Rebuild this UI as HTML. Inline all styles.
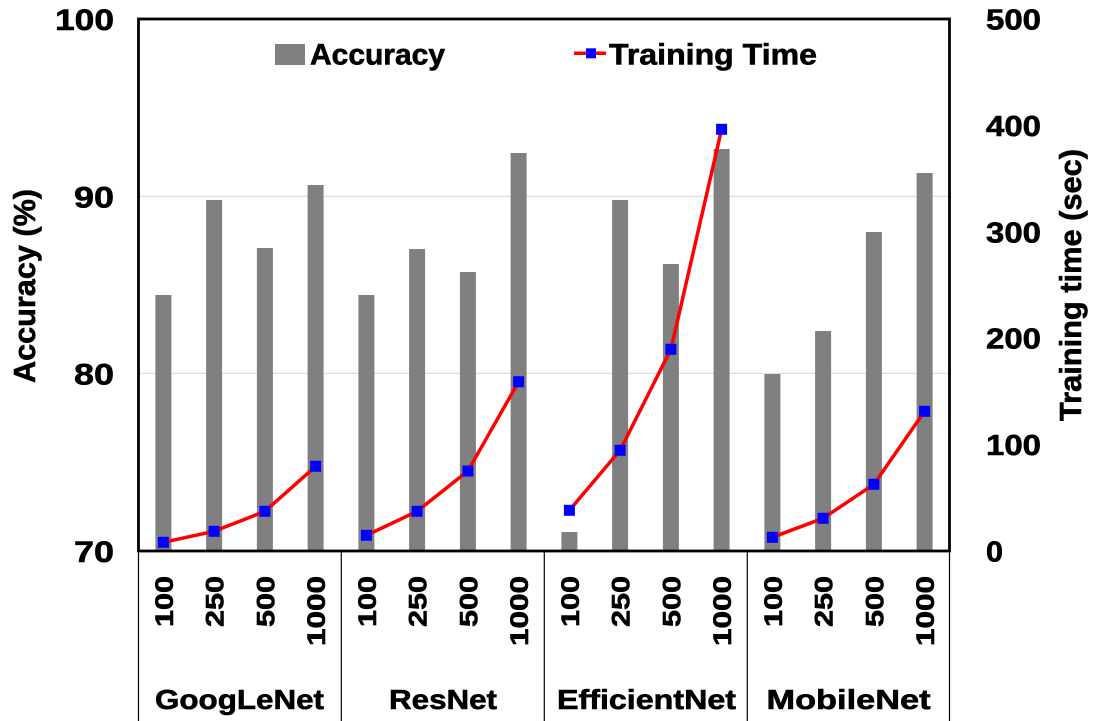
<!DOCTYPE html>
<html>
<head>
<meta charset="utf-8">
<style>
html,body{margin:0;padding:0;background:#fff;}
svg{display:block;}
text{font-family:"Liberation Sans",Arial,sans-serif;font-weight:bold;fill:#000;stroke:#000;stroke-width:0.6;}
</style>
</head>
<body>
<svg width="1095" height="721" viewBox="0 0 1095 721" xmlns="http://www.w3.org/2000/svg">
<rect x="0" y="0" width="1095" height="721" fill="#fff"/>

<!-- gridlines -->
<line x1="138" y1="196.3" x2="950" y2="196.3" stroke="#d9d9d9" stroke-width="1.2"/>
<line x1="138" y1="373.3" x2="950" y2="373.3" stroke="#d9d9d9" stroke-width="1.2"/>

<!-- bars -->
<g fill="#808080">
<rect x="155.4" y="295" width="16" height="256"/>
<rect x="206.1" y="200" width="16" height="351"/>
<rect x="256.9" y="248" width="16" height="303"/>
<rect x="307.6" y="185" width="16" height="366"/>
<rect x="358.4" y="295" width="16" height="256"/>
<rect x="409.1" y="249" width="16" height="302"/>
<rect x="459.9" y="272" width="16" height="279"/>
<rect x="510.6" y="153" width="16" height="398"/>
<rect x="561.4" y="532" width="16" height="19"/>
<rect x="612.1" y="200" width="16" height="351"/>
<rect x="662.9" y="264" width="16" height="287"/>
<rect x="713.6" y="149" width="16" height="402"/>
<rect x="764.4" y="374" width="16" height="177"/>
<rect x="815.1" y="331" width="16" height="220"/>
<rect x="865.9" y="232" width="16" height="319"/>
<rect x="916.6" y="173" width="16" height="378"/>
</g>

<!-- lines -->
<g fill="none" stroke="#ff0000" stroke-width="3.5" stroke-linejoin="round">
<polyline points="163.4,542.3 214.1,531.3 264.9,511.3 315.6,466.3"/>
<polyline points="366.4,535.3 417.1,511.3 467.9,471 518.6,381.7"/>
<polyline points="569.4,510.3 620.1,450.3 670.9,349.3 721.6,129.3"/>
<polyline points="772.4,537.3 823.1,518.3 873.9,484.3 924.6,411.3"/>
</g>
<!-- markers -->
<g fill="#0000ff">
<rect x="157.9" y="536.8" width="11" height="11"/>
<rect x="208.6" y="525.8" width="11" height="11"/>
<rect x="259.4" y="505.8" width="11" height="11"/>
<rect x="310.1" y="460.8" width="11" height="11"/>
<rect x="360.9" y="529.8" width="11" height="11"/>
<rect x="411.6" y="505.8" width="11" height="11"/>
<rect x="462.4" y="465.5" width="11" height="11"/>
<rect x="513.1" y="376.2" width="11" height="11"/>
<rect x="563.9" y="504.8" width="11" height="11"/>
<rect x="614.6" y="444.8" width="11" height="11"/>
<rect x="665.4" y="343.8" width="11" height="11"/>
<rect x="716.1" y="123.8" width="11" height="11"/>
<rect x="766.9" y="531.8" width="11" height="11"/>
<rect x="817.6" y="512.8" width="11" height="11"/>
<rect x="868.4" y="478.8" width="11" height="11"/>
<rect x="919.1" y="405.8" width="11" height="11"/>
</g>

<!-- plot border -->
<rect x="138.5" y="19" width="811" height="532" fill="none" stroke="#000" stroke-width="2.8"/>

<!-- category dividers -->
<g stroke="#000" stroke-width="1.2">
<line x1="138.5" y1="551" x2="138.5" y2="721"/>
<line x1="341.3" y1="551" x2="341.3" y2="721"/>
<line x1="544.3" y1="551" x2="544.3" y2="721"/>
<line x1="747.3" y1="551" x2="747.3" y2="721"/>
<line x1="949.5" y1="551" x2="949.5" y2="721"/>
</g>

<!-- legend -->
<rect x="275" y="44" width="30" height="21" fill="#808080"/>
<text x="310" y="64.5" font-size="30" textLength="135" lengthAdjust="spacingAndGlyphs">Accuracy</text>
<line x1="574" y1="53.3" x2="606" y2="53.3" stroke="#ff0000" stroke-width="3.5"/>
<rect x="586" y="48.3" width="10" height="10" fill="#0000ff"/>
<text x="609" y="64.5" font-size="30" textLength="208" lengthAdjust="spacingAndGlyphs">Training Time</text>

<!-- left ticks -->
<g font-size="30" text-anchor="end">
<text x="114" y="30" textLength="59" lengthAdjust="spacingAndGlyphs">100</text>
<text x="114" y="207.3" textLength="40" lengthAdjust="spacingAndGlyphs">90</text>
<text x="114" y="384.3" textLength="40" lengthAdjust="spacingAndGlyphs">80</text>
<text x="114" y="562" textLength="40" lengthAdjust="spacingAndGlyphs">70</text>
</g>

<!-- right ticks -->
<g font-size="29">
<text x="986" y="29.5" textLength="55" lengthAdjust="spacingAndGlyphs">500</text>
<text x="986" y="136" textLength="55" lengthAdjust="spacingAndGlyphs">400</text>
<text x="986" y="242.3" textLength="55" lengthAdjust="spacingAndGlyphs">300</text>
<text x="986" y="348.7" textLength="55" lengthAdjust="spacingAndGlyphs">200</text>
<text x="986" y="455" textLength="55" lengthAdjust="spacingAndGlyphs">100</text>
<text x="986" y="561.5" textLength="17" lengthAdjust="spacingAndGlyphs">0</text>
</g>

<!-- axis titles -->
<text transform="translate(35,286) rotate(-90)" font-size="31" text-anchor="middle" textLength="194" lengthAdjust="spacingAndGlyphs">Accuracy (%)</text>
<text transform="translate(1081,285) rotate(-90)" font-size="31" text-anchor="middle" textLength="272" lengthAdjust="spacingAndGlyphs">Training time (sec)</text>

<!-- category labels (rotated) -->
<g font-size="25" text-anchor="end">
<text transform="translate(173,576) rotate(-90)" textLength="51" lengthAdjust="spacingAndGlyphs">100</text>
<text transform="translate(223.7,576) rotate(-90)" textLength="51" lengthAdjust="spacingAndGlyphs">250</text>
<text transform="translate(274.5,576) rotate(-90)" textLength="51" lengthAdjust="spacingAndGlyphs">500</text>
<text transform="translate(325.2,576) rotate(-90)" textLength="70" lengthAdjust="spacingAndGlyphs">1000</text>
<text transform="translate(376,576) rotate(-90)" textLength="51" lengthAdjust="spacingAndGlyphs">100</text>
<text transform="translate(426.7,576) rotate(-90)" textLength="51" lengthAdjust="spacingAndGlyphs">250</text>
<text transform="translate(477.5,576) rotate(-90)" textLength="51" lengthAdjust="spacingAndGlyphs">500</text>
<text transform="translate(528.2,576) rotate(-90)" textLength="70" lengthAdjust="spacingAndGlyphs">1000</text>
<text transform="translate(579,576) rotate(-90)" textLength="51" lengthAdjust="spacingAndGlyphs">100</text>
<text transform="translate(629.7,576) rotate(-90)" textLength="51" lengthAdjust="spacingAndGlyphs">250</text>
<text transform="translate(680.5,576) rotate(-90)" textLength="51" lengthAdjust="spacingAndGlyphs">500</text>
<text transform="translate(731.2,576) rotate(-90)" textLength="70" lengthAdjust="spacingAndGlyphs">1000</text>
<text transform="translate(782,576) rotate(-90)" textLength="51" lengthAdjust="spacingAndGlyphs">100</text>
<text transform="translate(832.7,576) rotate(-90)" textLength="51" lengthAdjust="spacingAndGlyphs">250</text>
<text transform="translate(883.5,576) rotate(-90)" textLength="51" lengthAdjust="spacingAndGlyphs">500</text>
<text transform="translate(934.2,576) rotate(-90)" textLength="70" lengthAdjust="spacingAndGlyphs">1000</text>
</g>

<!-- group labels -->
<g font-size="28" text-anchor="middle">
<text x="239.5" y="709" textLength="169" lengthAdjust="spacingAndGlyphs">GoogLeNet</text>
<text x="443" y="709" textLength="108" lengthAdjust="spacingAndGlyphs">ResNet</text>
<text x="646.5" y="709" textLength="179" lengthAdjust="spacingAndGlyphs">EfficientNet</text>
<text x="848.5" y="709" textLength="164" lengthAdjust="spacingAndGlyphs">MobileNet</text>
</g>
</svg>
</body>
</html>
